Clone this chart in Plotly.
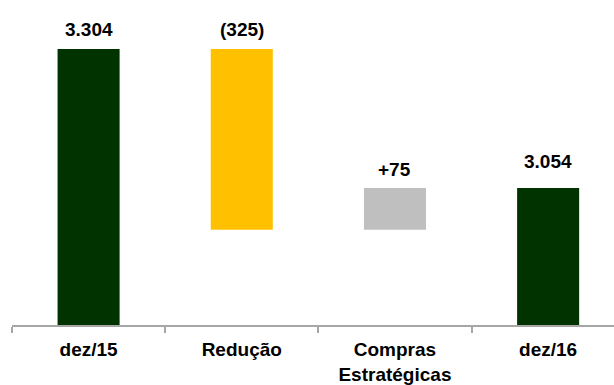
import plotly.graph_objects as go

categories = ["dez/15", "Redução", "Compras<br>Estratégicas", "dez/16"]
measures = ["absolute", "relative", "relative", "total"]
values = [3304, -325, 75, 3054]
value_labels = ["3.304", "(325)", "+75", "3.054"]

GREEN = "#003300"
YELLOW = "#FFC000"
GRAY = "#BFBFBF"
FONT = "Arial, Liberation Sans, sans-serif"

fig = go.Figure(go.Waterfall(
    x=categories,
    y=values,
    measure=measures,
    width=0.405,
    totals=dict(marker=dict(color=GREEN)),
    decreasing=dict(marker=dict(color=YELLOW)),
    increasing=dict(marker=dict(color=GRAY)),
    connector=dict(visible=False),
    hoverinfo="skip",
    textinfo="none",
))

# label positions: top of each bar (computed from the data)
running = 0
tops = []
for m, v in zip(measures, values):
    if m == "absolute":
        start, running = 0, v
    elif m == "relative":
        start, running = running, running + v
    else:
        start = 0
    tops.append(max(start, running) if m != "total" else running)

label_shifts = [7, 7, 6, 14]
for cat, lab, top, ys in zip(categories, value_labels, tops, label_shifts):
    fig.add_annotation(
        x=cat, y=top, text=lab, showarrow=False,
        xanchor="center", yanchor="bottom", yshift=ys,
        font=dict(family=FONT, size=19, color="#000000", weight="bold"),
    )

fig.update_layout(
    width=614, height=385,
    margin=dict(l=12, r=0, t=0, b=58),
    paper_bgcolor="white", plot_bgcolor="white",
    showlegend=False,
    xaxis=dict(
        type="category",
        range=[-0.5, 3.43],
        showline=True, linecolor="#A6A6A6", linewidth=2,
        ticks="outside", tickson="boundaries", ticklen=6,
        tickcolor="#A6A6A6", tickwidth=1.5,
        ticklabelstandoff=6,
        showgrid=False, zeroline=False,
        tickfont=dict(family=FONT, size=19, color="#000000", weight="bold"),
    ),
    yaxis=dict(
        range=[2808, 3392],
        visible=False, showgrid=False, zeroline=False,
    ),
)

fig.write_html("out.html")
